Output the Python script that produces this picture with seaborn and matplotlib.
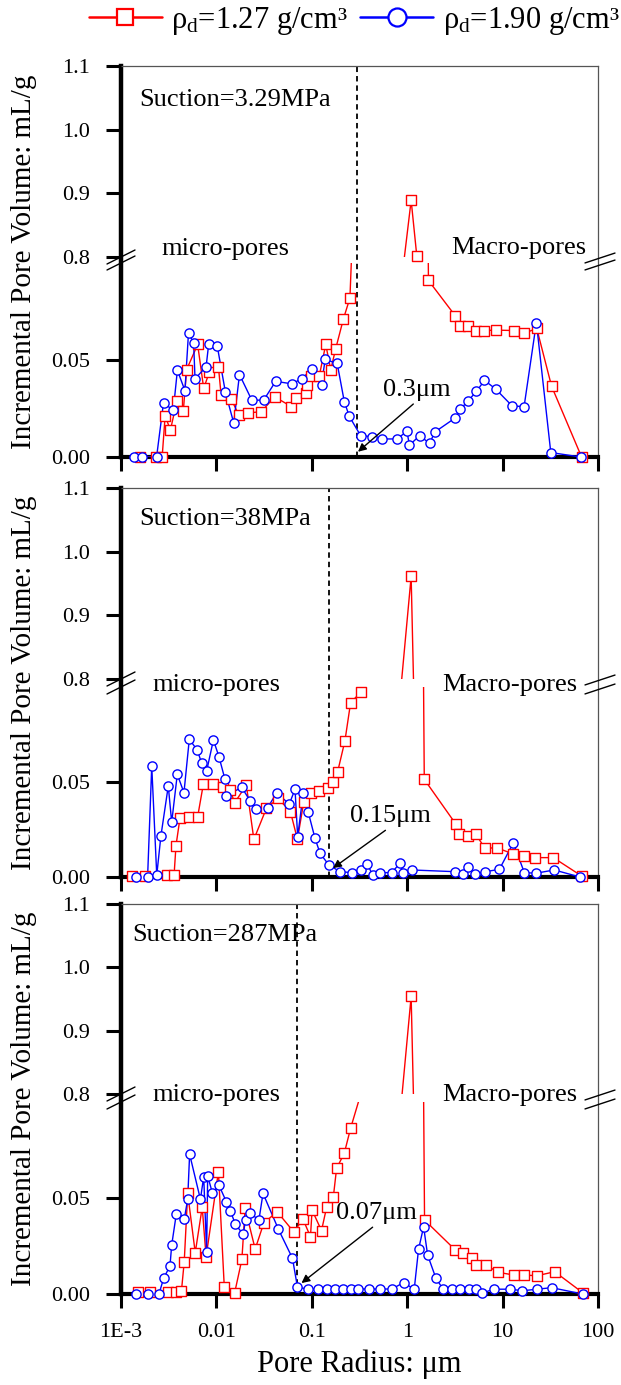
import matplotlib
matplotlib.use("Agg")
import matplotlib.pyplot as plt
from matplotlib.lines import Line2D
from matplotlib.ticker import NullLocator
import numpy as np
import seaborn as sns

# ---------------- data: incremental pore volume (mL/g) vs pore radius (um) ----------------
# Suction = 3.29 MPa
r1_x = [0.0016, 0.0023, 0.0027, 0.0029, 0.0033, 0.00386, 0.0045, 0.00487, 0.00636, 0.00736,
        0.00844, 0.0105, 0.0112, 0.0143, 0.0172, 0.0217, 0.0295, 0.0408, 0.0611, 0.069,
        0.0879, 0.089, 0.099, 0.12, 0.14, 0.158, 0.178, 0.214, 0.251, 1.10,
        1.26, 1.67, 3.2, 3.55, 4.35, 5.28, 6.46, 8.43, 13.1, 16.8,
        22.8, 32.6, 67.3]
r1_y = [0.0, 0.0, 0.0, 0.021, 0.014, 0.029, 0.0237, 0.045, 0.058, 0.0354,
        0.0438, 0.0465, 0.032, 0.0298, 0.0216, 0.0228, 0.0233, 0.031, 0.026, 0.0303,
        0.033, 0.0373, 0.0417, 0.042, 0.058, 0.045, 0.0558, 0.071, 0.082, 0.889,
        0.802, 0.091, 0.0727, 0.0675, 0.0675, 0.0652, 0.0652, 0.0654, 0.0652, 0.0637,
        0.0663, 0.0365, 0.0]
b1_x = [0.00137, 0.00168, 0.00236, 0.00279, 0.00353, 0.0039, 0.00468, 0.0051, 0.00577, 0.00597,
        0.0078, 0.0083, 0.0102, 0.01244, 0.0152, 0.01746, 0.0235, 0.0313, 0.0418, 0.062,
        0.078, 0.1007, 0.1264, 0.138, 0.1846, 0.219, 0.247, 0.325, 0.4245, 0.541,
        0.78, 0.993, 1.057, 1.348, 1.72, 1.94, 3.2, 3.61, 4.35, 5.32,
        6.46, 8.43, 12.6, 16.8, 22.6, 32.0, 66.0]
b1_y = [0.0, 0.0, 0.0, 0.028, 0.024, 0.0447, 0.0342, 0.064, 0.0588, 0.0403,
        0.0465, 0.0582, 0.0573, 0.0333, 0.0175, 0.0425, 0.0293, 0.0293, 0.039, 0.0377,
        0.0403, 0.0452, 0.0372, 0.0503, 0.0482, 0.0286, 0.021, 0.011, 0.0105, 0.0093,
        0.0093, 0.0132, 0.0061, 0.011, 0.007, 0.0128, 0.0202, 0.0246, 0.029, 0.0338,
        0.0395, 0.0351, 0.0263, 0.026, 0.0693, 0.0023, 0.0]

# Suction = 38 MPa
r2_x = [0.0013, 0.0018, 0.003, 0.0036, 0.00377, 0.00415, 0.00512, 0.00636, 0.0073, 0.0093,
        0.01165, 0.014, 0.0155, 0.0206, 0.0247, 0.0334, 0.0442, 0.0597, 0.0707, 0.0824,
        0.099, 0.119, 0.1486, 0.168, 0.1866, 0.2225, 0.255, 0.325, 1.10, 1.51,
        3.25, 3.52, 4.31, 5.22, 6.54, 8.67, 12.95, 16.9, 21.9, 34.0,
        67.5]
r2_y = [0.0005, 0.0005, 0.001, 0.001, 0.0165, 0.0309, 0.0314, 0.0317, 0.0489, 0.0489,
        0.0475, 0.0458, 0.039, 0.0484, 0.0198, 0.0361, 0.0414, 0.0344, 0.0198, 0.0396,
        0.0443, 0.0454, 0.0467, 0.0501, 0.0554, 0.0717, 0.0917, 0.0972, 0.961, 0.0514,
        0.0277, 0.0226, 0.0217, 0.0226, 0.0151, 0.0154, 0.0121, 0.0112, 0.0102, 0.0102,
        0.0005]
b2_x = [0.00143, 0.0019, 0.0021, 0.00237, 0.00262, 0.00313, 0.0034, 0.00389, 0.00457, 0.0052,
        0.0063, 0.00702, 0.0079, 0.0093, 0.01064, 0.0123, 0.0126, 0.0184, 0.0225, 0.026,
        0.0345, 0.0429, 0.058, 0.0667, 0.0711, 0.0815, 0.0919, 0.108, 0.122, 0.151,
        0.198, 0.262, 0.326, 0.382, 0.435, 0.519, 0.687, 0.84, 0.912, 1.114,
        3.17, 3.87, 4.37, 5.14, 6.54, 9.25, 12.95, 16.9, 22.4, 34.8,
        64.7]
b2_y = [0.0, 0.0, 0.0584, 0.001, 0.0216, 0.0479, 0.0288, 0.054, 0.0444, 0.0725,
        0.0668, 0.0598, 0.0558, 0.0721, 0.0633, 0.0514, 0.0426, 0.0472, 0.0402, 0.0356,
        0.0365, 0.0444, 0.0383, 0.0462, 0.0212, 0.0444, 0.034, 0.0204, 0.0125, 0.0063,
        0.0028, 0.0023, 0.0037, 0.0068, 0.001, 0.0023, 0.0023, 0.0072, 0.002, 0.0037,
        0.0028, 0.0016, 0.0054, 0.0016, 0.0028, 0.004, 0.018, 0.0023, 0.002, 0.0037,
        0.0]

# Suction = 287 MPa
r3_x = [0.0015, 0.002, 0.0031, 0.0038, 0.0043, 0.0046, 0.005, 0.006, 0.0071, 0.0078,
        0.0105, 0.0121, 0.0155, 0.0185, 0.02, 0.0255, 0.0313, 0.0432, 0.0646, 0.081,
        0.0968, 0.1007, 0.1264, 0.143, 0.168, 0.182, 0.219, 0.255, 0.33, 1.10,
        1.52, 3.2, 3.85, 4.8, 5.32, 6.73, 8.93, 13.1, 16.8, 22.8,
        35.2, 69.0]
r3_y = [0.0012, 0.0012, 0.0012, 0.0012, 0.0015, 0.0168, 0.0524, 0.0215, 0.0452, 0.0194,
        0.0637, 0.0035, 0.0004, 0.018, 0.0446, 0.0234, 0.0368, 0.0429, 0.0324, 0.0389,
        0.0298, 0.0437, 0.033, 0.0452, 0.0504, 0.0655, 0.0733, 0.0863, 0.105, 0.954,
        0.0385, 0.0229, 0.0212, 0.0186, 0.0151, 0.0151, 0.0113, 0.0099, 0.0099, 0.0095,
        0.0116, 0.0007]
b3_x = [0.00145, 0.0019, 0.0025, 0.0028, 0.00326, 0.0034, 0.0038, 0.0046, 0.005, 0.00524,
        0.0068, 0.00736, 0.0079, 0.0081, 0.0091, 0.0106, 0.0127, 0.014, 0.0158, 0.0191,
        0.0202, 0.0224, 0.0279, 0.0308, 0.0447, 0.0627, 0.0708, 0.0914, 0.1165, 0.143,
        0.1746, 0.2106, 0.2555, 0.307, 0.401, 0.52, 0.69, 0.915, 1.185, 1.315,
        1.486, 1.637, 2.0, 2.38, 2.95, 3.61, 4.42, 5.2, 6.11, 8.1,
        12.1, 16.1, 23.2, 32.6, 69.0]
b3_y = [0.0, 0.0, 0.0, 0.0082, 0.0146, 0.0255, 0.0417, 0.0389, 0.0493, 0.0728,
        0.0493, 0.0611, 0.022, 0.0615, 0.0524, 0.0568, 0.0481, 0.0434, 0.0363, 0.0311,
        0.0385, 0.0423, 0.0385, 0.0524, 0.0337, 0.0186, 0.0035, 0.0026, 0.0026, 0.0026,
        0.0026, 0.0026, 0.0026, 0.0026, 0.0026, 0.0026, 0.0026, 0.0059, 0.0025, 0.0233,
        0.035, 0.0203, 0.0082, 0.0025, 0.0025, 0.0025, 0.0025, 0.0025, 0.0005, 0.0025,
        0.0025, 0.0017, 0.0025, 0.0033, 0.0]

suction_labels = ["Suction=3.29MPa", "Suction=38MPa", "Suction=287MPa"]
boundary_radius = [0.3, 0.15, 0.07]
boundary_labels = ["0.3\u03bcm", "0.15\u03bcm", "0.07\u03bcm"]
arrow_tip_x = [0.305, 0.167, 0.078]
arrow_tip_y = [0.0027, 0.0047, 0.0057]
arrow_text_x = [1.27, 0.66, 0.48]
arrow_text_y = [0.029, 0.0263, 0.0365]

x_ticks = [1e-3, 1e-2, 1e-1, 1, 10, 100]
x_tick_labels = ["1E-3", "0.01", "0.1", "1", "10", "100"]
upper_ticks = [0.8, 0.9, 1.0, 1.1]
upper_tick_labels = ["0.8", "0.9", "1.0", "1.1"]
lower_ticks = [0.0, 0.05]
lower_tick_labels = ["0.00", "0.05"]
legend_labels = ["\u03c1$_\\mathregular{d}$=1.27 g/cm\u00b3",
                 "\u03c1$_\\mathregular{d}$=1.90 g/cm\u00b3"]

RED = "#ff0000"
BLUE = "#0000ff"

# ---------------- style ----------------
sns.set_theme(style="white")
plt.rcParams["font.family"] = ["Liberation Serif", "DejaVu Serif"]
plt.rcParams["mathtext.fontset"] = "custom"
plt.rcParams["mathtext.rm"] = "Liberation Serif"
plt.rcParams["mathtext.it"] = "Liberation Serif:italic"
for key in ("text.color", "axes.labelcolor", "xtick.color", "ytick.color"):
    plt.rcParams[key] = "black"

W, H = 621, 1385
fig = plt.figure(figsize=(W / 100, H / 100), dpi=100, facecolor="white")

X_LEFT, X_RIGHT = 121, 598
# pixel rows for each panel: upper top, upper bottom, lower top, lower bottom
panel_rows = [(66, 257, 263, 457), (488, 679, 687, 877), (904, 1094, 1102, 1294)]
suction_pos = [(139, 106), (139, 525), (132, 941)]
micro_pos = [(161, 255), (152, 691), (152, 1101)]
macro_pos = [(451, 254), (442, 691), (442, 1101)]


def fx(px):
    return px / W


def fy(py):
    return 1 - py / H


def rect(top, bottom):
    return [fx(X_LEFT), fy(bottom), (X_RIGHT - X_LEFT) / W, (bottom - top) / H]


def break_mark(xc, yc, half_w, slope):
    fig.add_artist(Line2D([fx(xc - half_w), fx(xc + half_w)],
                          [fy(yc + half_w * slope), fy(yc - half_w * slope)],
                          transform=fig.transFigure, color="black", lw=1.0))


def draw_series(ax, xs, ys, color, marker, lo_lim, hi_lim):
    xs = np.asarray(xs, float)
    ys = np.asarray(ys, float)
    sns.lineplot(x=xs, y=ys, ax=ax, color=color, linewidth=1.0, estimator=None,
                 sort=False, legend=False, zorder=2)
    keep = (ys >= lo_lim - 1e-9) & (ys <= hi_lim + 1e-9)
    sns.scatterplot(x=xs[keep], y=ys[keep], ax=ax, marker=marker, s=44, color="white",
                    edgecolor=color, linewidth=1.0, clip_on=False, zorder=3, legend=False)
    ax.set_xlabel("")
    ax.set_ylabel("")


series = [((r1_x, r1_y), (b1_x, b1_y)),
          ((r2_x, r2_y), (b2_x, b2_y)),
          ((r3_x, r3_y), (b3_x, b3_y))]

for i, (ut, ub, lt, lb) in enumerate(panel_rows):
    # frame around the whole broken panel
    frame = fig.add_axes(rect(ut, lb), zorder=0, facecolor="white")
    frame.set_xscale("log")
    frame.set_xlim(1e-3, 100)
    frame.set_ylim(0, 1)
    frame.set_xticks([])
    frame.set_yticks([])
    frame.xaxis.set_minor_locator(NullLocator())
    frame.tick_params(which="both", length=0)
    for side, lw, col in (("left", 3.2, "black"), ("bottom", 3.0, "black"),
                          ("top", 0.9, "#555555"), ("right", 0.9, "#555555")):
        frame.spines[side].set_visible(True)
        frame.spines[side].set_linewidth(lw)
        frame.spines[side].set_color(col)
    frame.axvline(boundary_radius[i], color="black", lw=1.3, ls=(0, (3, 2.2)))

    up = fig.add_axes(rect(ut, ub), zorder=1, facecolor="none")
    lo = fig.add_axes(rect(lt, lb), zorder=1, facecolor="none")
    for ax in (up, lo):
        ax.set_xscale("log")
        for sp in ax.spines.values():
            sp.set_visible(False)

    (rx, ry), (bx, by) = series[i]
    draw_series(up, rx, ry, RED, "s", 0.8, 1.1)
    draw_series(up, bx, by, BLUE, "o", 0.8, 1.1)
    draw_series(lo, rx, ry, RED, "s", 0.0, 0.1)
    draw_series(lo, bx, by, BLUE, "o", 0.0, 0.1)

    for ax in (up, lo):
        ax.set_xlim(1e-3, 100)
        ax.xaxis.set_minor_locator(NullLocator())
        ax.yaxis.set_minor_locator(NullLocator())
        ax.tick_params(axis="y", which="major", left=True, direction="out", length=11,
                       width=2.2, pad=11, labelsize=16, color="black")
    up.set_ylim(0.8, 1.1)
    up.set_yticks(upper_ticks)
    up.set_yticklabels(upper_tick_labels)
    up.tick_params(axis="x", which="both", bottom=False, labelbottom=False)

    lo.set_ylim(0.0, 0.1)
    lo.set_yticks(lower_ticks)
    lo.set_yticklabels(lower_tick_labels)
    lo.set_xticks(x_ticks)
    lo.xaxis.set_minor_locator(NullLocator())
    last = i == len(panel_rows) - 1
    lo.set_xticklabels(x_tick_labels if last else [""] * len(x_ticks))
    lo.tick_params(axis="x", which="major", bottom=True, direction="out", length=10,
                   width=2.2, pad=11, labelsize=16, color="black", labelbottom=last)

    lo.annotate(boundary_labels[i], xy=(arrow_tip_x[i], arrow_tip_y[i]),
                xytext=(arrow_text_x[i], arrow_text_y[i]), textcoords="data",
                ha="center", va="bottom", fontsize=19,
                arrowprops=dict(arrowstyle="-|>", color="black", lw=1.0,
                                mutation_scale=12, relpos=(0.5, 0.0),
                                shrinkA=0, shrinkB=0))

    # axis-break marks on both sides
    break_mark(X_LEFT, ub, 14, 0.5)
    break_mark(X_LEFT, lt, 14, 0.5)
    break_mark(X_RIGHT + 2, ub + 1, 15, 0.33)
    break_mark(X_RIGHT + 2, lt + 2, 15, 0.33)

    sx, sy = suction_pos[i]
    fig.text(fx(sx), fy(sy), suction_labels[i], fontsize=19, ha="left", va="baseline")
    mx, my = micro_pos[i]
    fig.text(fx(mx), fy(my), "micro-pores", fontsize=19, ha="left", va="baseline")
    Mx, My = macro_pos[i]
    fig.text(fx(Mx), fy(My), "Macro-pores", fontsize=19, ha="left", va="baseline")

    fig.text(fx(24), fy((ut + lb) / 2), "Incremental Pore Volume: mL/g", fontsize=21,
             rotation=90, ha="center", va="center")

fig.text(fx((X_LEFT + X_RIGHT) / 2), fy(1364), "Pore Radius: \u03bcm", fontsize=22,
         ha="center", va="center")

handles = [Line2D([], [], color=RED, lw=1.8, marker="s", ms=12, mfc="white", mew=1.6),
           Line2D([], [], color=BLUE, lw=1.8, marker="o", ms=13, mfc="white", mew=1.6)]
fig.legend(handles, legend_labels, loc="center", bbox_to_anchor=(fx(354), fy(21)),
           ncol=2, frameon=False, fontsize=22, handlelength=2.4, handletextpad=0.3,
           columnspacing=0.4, borderpad=0.0)

fig.savefig("out.png", dpi=100, facecolor="white")
